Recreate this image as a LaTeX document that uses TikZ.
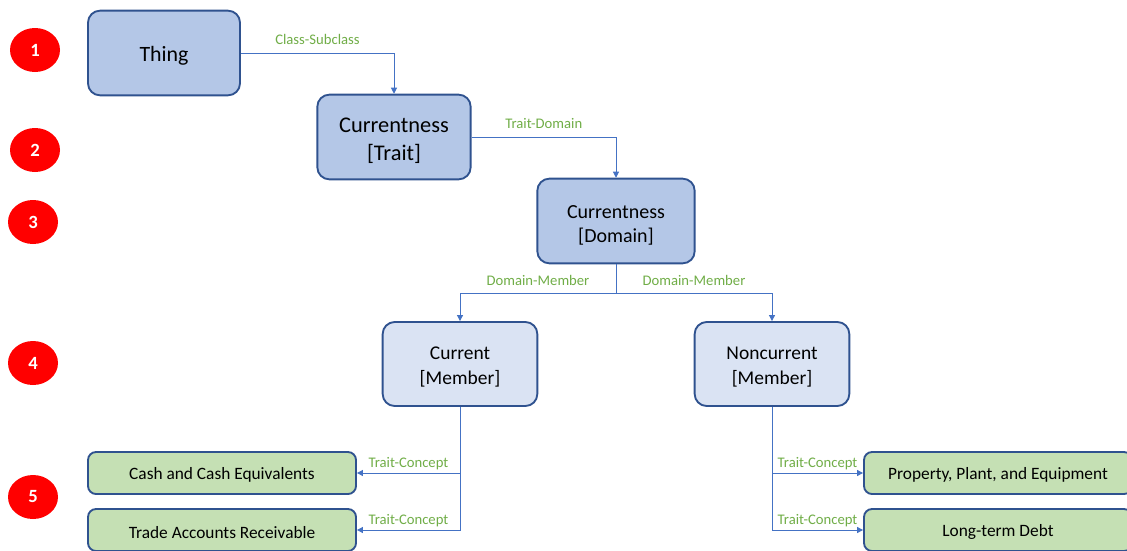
\documentclass[tikz,border=0pt]{standalone}
\usepackage{fontspec}
\setmainfont{Carlito}
\usepackage{xcolor}
\usetikzlibrary{shapes.geometric, arrows.meta, positioning, calc}
\definecolor{boxline}{RGB}{47, 82, 143}
\definecolor{linkblue}{RGB}{68, 114, 196}
\definecolor{labgreen}{RGB}{112, 173, 71}
\definecolor{darkfill}{RGB}{180, 199, 231}
\definecolor{lightfill}{RGB}{218, 227, 243}
\definecolor{greenfill}{RGB}{197, 224, 180}

\begin{document}
\begin{tikzpicture}[
  x=0.75pt, y=-0.75pt,
  basebox/.style={draw=boxline, line width=1.4pt, rounded corners=9pt, fill=darkfill, align=center, minimum width=115pt, minimum height=63.5pt},
  root/.style={basebox, minimum width=114pt, font=\fontsize{16.4}{21}\selectfont, execute at begin node={\rule{0pt}{0.95em}}},
  cls/.style={basebox, font=\fontsize{16.8}{21}\selectfont, execute at begin node={\rule{0pt}{2.25em}}},
  mbr/.style={cls, fill=lightfill, minimum width=116pt, minimum height=63pt, font=\fontsize{14.6}{18.75}\selectfont},
  cpt/.style={draw=boxline, line width=1.4pt, rounded corners=6pt, fill=greenfill, minimum width=201pt, minimum height=31.5pt, font=\fontsize{13}{15}\selectfont, execute at begin node={\rule{0pt}{0.95em}}},
  lvl/.style={ellipse, fill=red, minimum width=37.5pt, minimum height=33pt, inner sep=0pt, text=white, font=\fontsize{14}{16}\selectfont\bfseries},
  link/.style={draw=linkblue, line width=0.75pt, -{Triangle[width=4.5pt, length=4.5pt]}},
  rel/.style={text=labgreen, font=\fontsize{11}{13}\selectfont, inner sep=2pt},
]
  \useasboundingbox (0,0) rectangle (1127,550);

  % Level markers
  \node[lvl] (l1) at (35,50) {1};
  \node[lvl] (l2) at (35,150) {2};
  \node[lvl] (l3) at (33,222) {3};
  \node[lvl] (l4) at (33,363) {4};
  \node[lvl] (l5) at (33,497) {5};

  % Class, trait and domain
  \node[root] (thing) at (164,53) {Thing};
  \node[cls] (trait) at (394,137) {Currentness\\{}[Trait]};
  \node[cls, minimum width=118pt, font=\fontsize{15}{18}\selectfont] (domain) at (616,221) {Currentness\\{}[Domain]};

  % Members
  \node[mbr] (cur) at (460,364) {Current\\{}[Member]};
  \node[mbr] (noncur) at (772,364) {Noncurrent\\{}[Member]};

  % Concepts
  \node[cpt] (cash) at (222,473) {Cash and Cash Equivalents};
  \node[cpt] (trade) at (222,530) {Trade Accounts Receivable};
  \node[cpt] (ppe) at (998,473) {Property, Plant, and Equipment};
  \node[cpt] (ltd) at (998,530) {Long-term Debt};

  % Connections
  \draw[link] (thing.east) -| node[rel, above, pos=0.25, yshift=4pt] {Class-Subclass} (trait.north);
  \draw[link] (trait.east) -| node[rel, above, pos=0.25, yshift=4pt] {Trait-Domain} (domain.north);
  \coordinate (split) at (616,293);
  \draw[draw=linkblue, line width=0.75pt] (domain.south) -- (split);
  \draw[link] (split) -| node[rel, above, pos=0.25, yshift=3pt] {Domain-Member} (cur.north);
  \draw[link] (split) -| node[rel, above, pos=0.25, yshift=3pt] {Domain-Member} (noncur.north);
  \draw[link] (cur.south) |- node[rel, above, pos=0.75] {Trait-Concept} (cash.east);
  \draw[link] (cur.south) |- node[rel, above, pos=0.75] {Trait-Concept} (trade.east);
  \draw[link] (noncur.south) |- node[rel, above, pos=0.75] {Trait-Concept} (ppe.west);
  \draw[link] (noncur.south) |- node[rel, above, pos=0.75] {Trait-Concept} (ltd.west);

\end{tikzpicture}
\end{document}
